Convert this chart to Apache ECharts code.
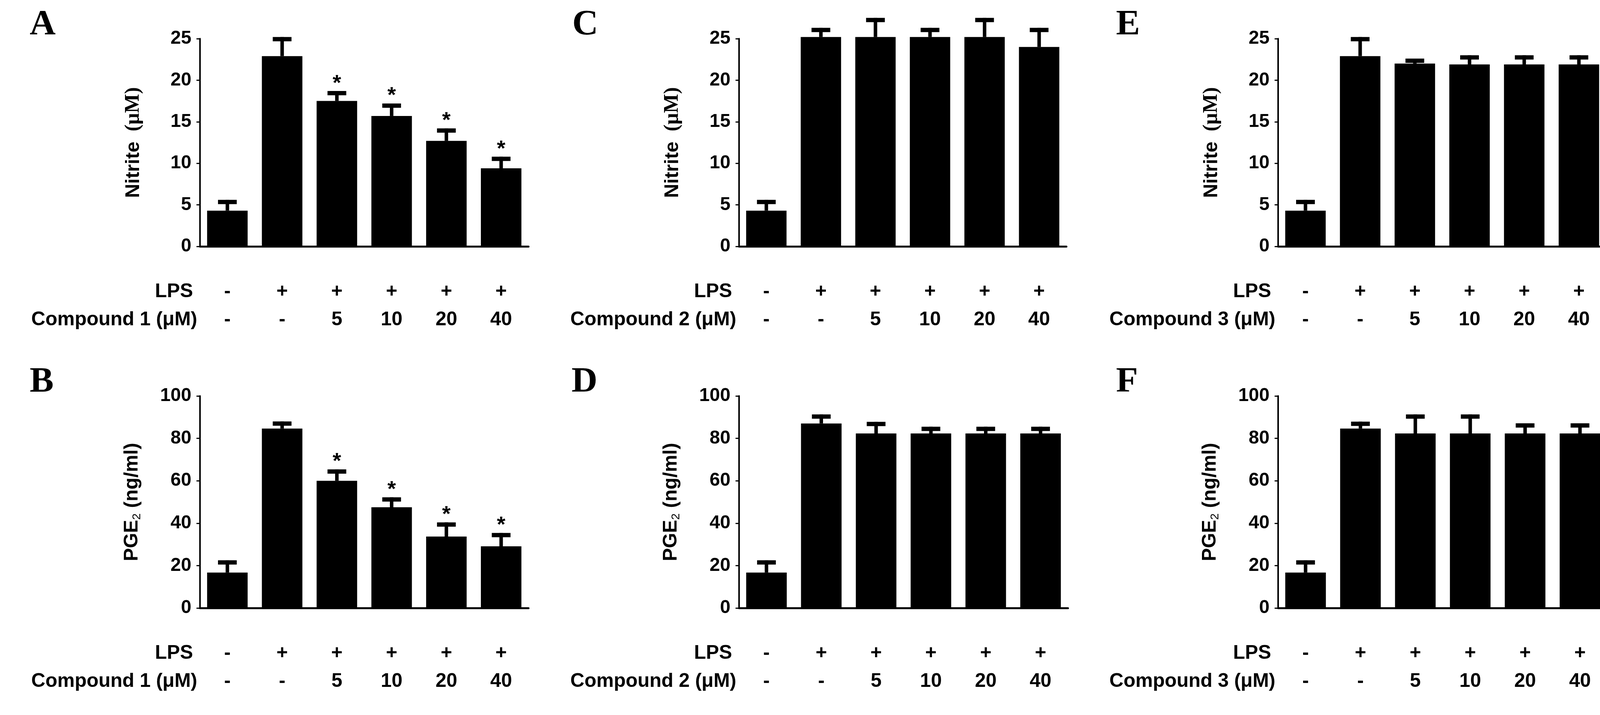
<!DOCTYPE html>
<html>
<head>
<meta charset="utf-8">
<script src="https://cdn.jsdelivr.net/npm/echarts@6/dist/echarts.min.js"></script>
<style>
html,body{margin:0;padding:0;background:#fff;}
#chart{width:4163px;height:1831px;}
</style>
</head>
<body>
<div id="chart"></div>
<script>
// treatment rows printed under every x axis
var lpsRow = ['-', '+', '+', '+', '+', '+'];
var doseRow = ['-', '-', '5', '10', '20', '40'];

// nitrite (uM): bar height and top of the error bar
var nitrite1 = [4.3, 22.9, 17.5, 15.7, 12.7, 9.4];
var nitrite1Err = [5.6, 25.2, 18.7, 17.2, 14.2, 10.8];
var nitrite1Sig = [0, 0, 1, 1, 1, 1];
var nitrite2 = [4.3, 25.2, 25.2, 25.2, 25.2, 24.0];
var nitrite2Err = [5.6, 26.3, 27.5, 26.3, 27.5, 26.3];
var nitrite3 = [4.3, 22.9, 22.0, 21.9, 21.9, 21.9];
var nitrite3Err = [5.6, 25.2, 22.6, 23.0, 23.0, 23.0];

// PGE2 (ng/ml)
var pge1 = [16.7, 84.6, 60.0, 47.5, 33.7, 29.1];
var pge1Err = [22.5, 88.0, 65.4, 52.2, 40.4, 35.4];
var pge1Sig = [0, 0, 1, 1, 1, 1];
var pge2 = [16.7, 87.0, 82.3, 82.3, 82.3, 82.3];
var pge2Err = [22.5, 91.3, 87.8, 85.5, 85.5, 85.5];
var pge3 = [16.7, 84.6, 82.3, 82.3, 82.3, 82.3];
var pge3Err = [22.5, 87.9, 91.3, 91.3, 87.1, 87.1];

var nitriteTicks = {max: 25, interval: 5};
var pgeTicks = {max: 100, interval: 20};

var SANS = '"Liberation Sans", Arial, sans-serif';
var SERIF = '"Liberation Serif", "Times New Roman", serif';

var nitriteName = {
    text: '{n|Nitrite}{u|\u00a0\u00a0(μM)}',
    rich: {
        n: {fontFamily: SANS, fontWeight: 'bold', fontSize: 50, color: '#000'},
        u: {fontFamily: SERIF, fontWeight: 'bold', fontSize: 52, color: '#000'}
    }
};
var pgeName = {
    text: '{n|PGE}{s|2}{n|\u00a0(ng/ml)}',
    rich: {
        n: {fontFamily: SANS, fontWeight: 'bold', fontSize: 50, color: '#000', lineHeight: 60, verticalAlign: 'middle'},
        s: {fontFamily: SANS, fontSize: 30, color: '#000', lineHeight: 60, verticalAlign: 'bottom', padding: [0, 0, 2, 0]}
    }
};

var panels = [
    {letter: 'A', lx: 76,   left: 512,  top: 99,   width: 841, height: 532, ticks: nitriteTicks, yName: nitriteName, compound: 'Compound 1 (μM)', mean: nitrite1, err: nitrite1Err, sig: nitrite1Sig},
    {letter: 'B', lx: 76,   left: 512,  top: 1014, width: 841, height: 543, ticks: pgeTicks,     yName: pgeName,     compound: 'Compound 1 (μM)', mean: pge1,     err: pge1Err,     sig: pge1Sig},
    {letter: 'C', lx: 1465, left: 1892, top: 99,   width: 838, height: 532, ticks: nitriteTicks, yName: nitriteName, compound: 'Compound 2 (μM)', mean: nitrite2, err: nitrite2Err},
    {letter: 'D', lx: 1463, left: 1892, top: 1014, width: 842, height: 543, ticks: pgeTicks,     yName: pgeName,     compound: 'Compound 2 (μM)', mean: pge2,     err: pge2Err},
    {letter: 'E', lx: 2857, left: 3272, top: 99,   width: 840, height: 532, ticks: nitriteTicks, yName: nitriteName, compound: 'Compound 3 (μM)', mean: nitrite3, err: nitrite3Err},
    {letter: 'F', lx: 2857, left: 3272, top: 1014, width: 843, height: 543, ticks: pgeTicks,     yName: pgeName,     compound: 'Compound 3 (μM)', mean: pge3,     err: pge3Err}
];

function errorBar(params, api) {
    var top = api.coord([api.value(0), api.value(1)]);
    var end = api.coord([api.value(0), api.value(2)]);
    var capW = 48, capH = 11, stemW = 9;
    var children = [
        {type: 'rect', shape: {x: top[0] - stemW / 2, y: end[1], width: stemW, height: top[1] - end[1]}, style: {fill: '#000'}},
        {type: 'rect', shape: {x: top[0] - capW / 2, y: end[1], width: capW, height: capH}, style: {fill: '#000'}}
    ];
    if (api.value(3)) {
        children.push({
            type: 'text',
            style: {text: '*', x: top[0], y: end[1] - 19, fontSize: 56, fontWeight: 'bold', fontFamily: SANS,
                align: 'center', verticalAlign: 'middle', fill: '#000'}
        });
    }
    return {type: 'group', children: children};
}

var grids = [], xAxes = [], yAxes = [], series = [], graphics = [];

panels.forEach(function (p, i) {
    grids.push({left: p.left, top: p.top, width: p.width, height: p.height, containLabel: false});
    xAxes.push({
        type: 'category', gridIndex: i, data: doseRow,
        axisLine: {lineStyle: {color: '#000', width: 5}},
        axisTick: {show: false},
        axisLabel: {
            interval: 0, margin: 80, lineHeight: 72, fontSize: 50, fontWeight: 'bold', fontFamily: SANS, color: '#000',
            formatter: function (v, idx) { return lpsRow[idx] + '\n' + v; }
        }
    });
    yAxes.push({
        type: 'value', gridIndex: i, min: 0, max: p.ticks.max, interval: p.ticks.interval,
        name: p.yName.text, nameLocation: 'middle', nameGap: 144,
        nameTextStyle: {rich: p.yName.rich},
        axisLine: {show: true, lineStyle: {color: '#000', width: 4}},
        axisTick: {show: true, length: 9, lineStyle: {color: '#000', width: 3}},
        splitLine: {show: false},
        axisLabel: {margin: 22, fontSize: 48, fontWeight: 'bold', fontFamily: SANS, color: '#000'}
    });
    series.push({
        type: 'bar', xAxisIndex: i, yAxisIndex: i, data: p.mean, barWidth: '74%',
        itemStyle: {color: '#000'}, clip: false, silent: true
    });
    series.push({
        type: 'custom', xAxisIndex: i, yAxisIndex: i, renderItem: errorBar, clip: false, silent: true, z: 3,
        encode: {x: 0, y: [1, 2]},
        data: p.mean.map(function (m, k) { return [k, m, p.err[k], p.sig ? p.sig[k] : 0]; })
    });

    var bottom = p.top + p.height;
    graphics.push({type: 'text', x: p.lx, y: p.top - 35, style: {text: p.letter, font: 'bold 92px ' + SERIF, fill: '#000', align: 'left', verticalAlign: 'middle'}});
    graphics.push({type: 'text', x: p.left - 18, y: bottom + 116, style: {text: 'LPS', font: 'bold 50px ' + SANS, fill: '#000', align: 'right', verticalAlign: 'middle'}});
    graphics.push({type: 'text', x: p.left - 7, y: bottom + 188, style: {text: p.compound, font: 'bold 50px ' + SANS, fill: '#000', align: 'right', verticalAlign: 'middle'}});
});

var chart = echarts.init(document.getElementById('chart'));
chart.setOption({
    animation: false,
    backgroundColor: '#fff',
    grid: grids,
    xAxis: xAxes,
    yAxis: yAxes,
    series: series,
    graphic: graphics
});
window.addEventListener('resize', function () {
    chart.resize();
});
</script>
</body>
</html>
